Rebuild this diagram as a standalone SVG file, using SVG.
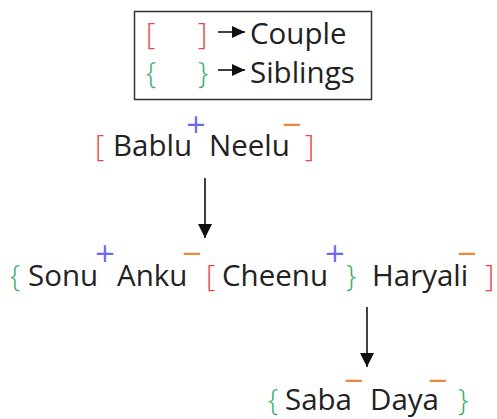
<svg xmlns="http://www.w3.org/2000/svg" width="497" height="419" viewBox="0 0 497 419">
<defs>
<style>
.t{font-family:"Open Sans","Noto Sans","Liberation Sans",sans-serif;font-size:29.5px;fill:#222;}
.br{font-family:"Open Sans","Noto Sans","Liberation Sans",sans-serif;font-size:29px;font-weight:300;}
.red{fill:#e9464d;}
.grn{fill:#2fae62;}
.sg{font-family:"DejaVu Sans",sans-serif;font-size:26px;text-anchor:middle;}
.pl{fill:#6a6af5;}
.mi{fill:#f0883a;}
.ln{stroke:#111;stroke-width:1.6;fill:none;}
</style>
<marker id="ah" markerUnits="userSpaceOnUse" markerWidth="16" markerHeight="16" refX="14" refY="7" orient="auto">
<path d="M0,0 L14,7 L0,14 Z" fill="#111"/>
</marker>
<marker id="ahs" markerUnits="userSpaceOnUse" markerWidth="14" markerHeight="14" refX="13" refY="6" orient="auto">
<path d="M0,0 L13,6 L0,12 Z" fill="#111"/>
</marker>
</defs>
<rect width="497" height="419" fill="#fff"/>
<g id="legend">
<rect x="134.5" y="11.5" width="237" height="88" fill="none" stroke="#333" stroke-width="1.5"/>
<text class="br red" x="146" y="44">[</text>
<text class="br red" x="198" y="44">]</text>
<line class="ln" x1="218" y1="32" x2="245" y2="32" marker-end="url(#ahs)"/>
<text class="t" x="250" y="44">Couple</text>
<text class="br grn" x="146" y="83">{</text>
<text class="br grn" x="198" y="83">}</text>
<line class="ln" x1="218" y1="70" x2="245" y2="70" marker-end="url(#ahs)"/>
<text class="t" x="250" y="83">Siblings</text>
</g>
<g id="couple-bablu-neelu">
<text class="br red" x="95" y="156">[</text>
<g id="bablu"><text class="t" x="113" y="156">Bablu<tspan class="sg pl" x="196" y="133">+</tspan></text></g>
<g id="neelu"><text class="t" x="209" y="156">Neelu<tspan class="sg mi" x="292" y="133">−</tspan></text></g>
<text class="br red" x="305" y="156">]</text>
</g>
<g id="siblings-row2">
<text class="br grn" x="10" y="286">{</text>
<g id="sonu"><text class="t" x="28" y="286">Sonu<tspan class="sg pl" x="105" y="262">+</tspan></text></g>
<g id="anku"><text class="t" x="117" y="286">Anku<tspan class="sg mi" x="192" y="262">−</tspan></text></g>
<text class="br red" x="206" y="286">[</text>
<g id="cheenu"><text class="t" x="222" y="286">Cheenu<tspan class="sg pl" x="335" y="262">+</tspan></text></g>
<text class="br grn" x="346" y="286">}</text>
<g id="haryali"><text class="t" x="372" y="286">Haryali<tspan class="sg mi" x="467" y="262">−</tspan></text></g>
<text class="br red" x="485" y="286">]</text>
</g>
<g id="siblings-row3">
<text class="br grn" x="268" y="410">{</text>
<g id="saba"><text class="t" x="285" y="410">Saba<tspan class="sg mi" x="354" y="389">−</tspan></text></g>
<g id="daya"><text class="t" x="370" y="410">Daya<tspan class="sg mi" x="438" y="389">−</tspan></text></g>
<text class="br grn" x="458" y="410">}</text>
</g>
<g id="connectors">
<line class="ln" x1="205" y1="178" x2="205" y2="238" marker-end="url(#ah)"/>
<line class="ln" x1="367" y1="307" x2="367" y2="367" marker-end="url(#ah)"/>
</g>
</svg>
